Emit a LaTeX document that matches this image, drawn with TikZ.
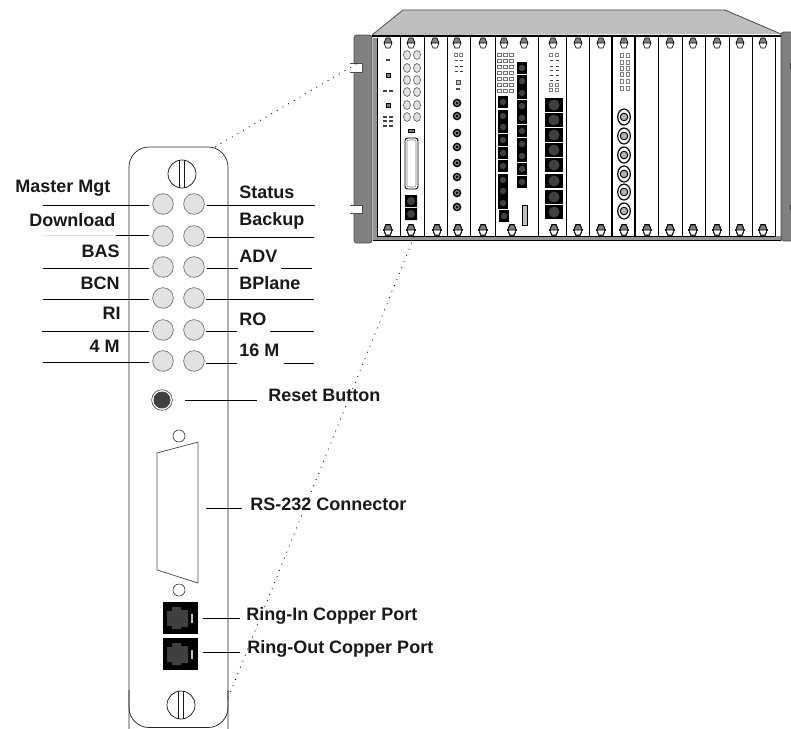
\documentclass[tikz,border=0pt]{standalone}
\usepackage{fontspec}
\setmainfont{Liberation Sans}
\usetikzlibrary{calc}
\definecolor{rackgray}{HTML}{BEBEBE}
\definecolor{eargray}{HTML}{808080}
\definecolor{ledgray}{HTML}{E2E2E2}
\definecolor{jack}{HTML}{404040}
\tikzset{
  lbl/.style={font=\fontsize{13.5pt}{15pt}\selectfont\bfseries,inner sep=0pt,text=black!90},
  lblL/.style={lbl,anchor=east},
  lblR/.style={lbl,anchor=west},
  leader/.style={draw=black,line width=0.6pt},
  divider/.style={draw=black,line width=0.7pt},
  led/.style={circle,draw=gray!90!black,fill=ledgray,line width=0.5pt,inner sep=0pt,minimum size=15.5pt},
  dotline/.style={draw=black,line width=0.6pt,dash pattern=on 0.7pt off 4.2pt},
}
\newcommand{\rackscrew}[2]{%
  \fill[white] (#1-4,#2) -- (#1-2,#2-5) -- (#1+2,#2-5) -- (#1+4,#2) -- (#1+2,#2+5) -- (#1-2,#2+5) -- cycle;
  \fill[gray] (#1-4,#2) -- (#1-2,#2-5) -- (#1+2,#2-5) -- (#1+4,#2) -- cycle;
  \draw[line width=0.45pt] (#1-4,#2) -- (#1-2,#2-5) -- (#1+2,#2-5) -- (#1+4,#2) -- (#1+2,#2+5) -- (#1-2,#2+5) -- cycle (#1-4,#2) -- (#1+4,#2);}
\newcommand{\minijack}[3]{%
  \fill[black] (#1-#3,#2-#3-1) rectangle (#1+#3,#2+#3+1);
  \fill[jack] (#1,#2) circle ({#3*0.65});}
\begin{document}
\begin{tikzpicture}[x=0.75pt,y=-0.75pt]
\useasboundingbox (0,0) rectangle (791,728);
% ---- rack ----
\fill[rackgray] (372,35) -- (403,10) -- (725,10) -- (781,34) -- cycle;
\draw[line width=0.6pt,black!70] (372,35) -- (403,10) -- (725,10) -- (781,34);
\fill[white] (372,35) rectangle (781,240);
\draw[line width=0.9pt] (372,36) -- (781,36);
\fill[gray!85] (373,38) rectangle (377,236);
\fill[gray!85] (373,236) rectangle (781,240);
\draw[line width=0.5pt] (373,240) -- (781,240);
\draw[line width=0.5pt] (377,38) -- (377,236) -- (775,236) -- (775,38);
% ears
\filldraw[fill=eargray,draw=black!70,line width=0.5pt,rounded corners=2pt] (354,35) rectangle (372,243);
\filldraw[fill=eargray,draw=black!70,line width=0.5pt,rounded corners=2pt] (781,32) rectangle (795,241);
\fill[white] (350,63) rectangle (362,72) (350,205) rectangle (362,213);
\draw[black!70,line width=0.4pt] (350,63) -- (362,63) -- (362,72) -- (350,72);
\draw[black!70,line width=0.4pt] (350,205) -- (362,205) -- (362,213) -- (350,213);
\fill[black!70] (790,63) rectangle (791,69) (790,205) rectangle (791,210);
% dividers
\foreach \x in {400,424,447,470,495,538,566,589,658,682,705,729,752}
  \draw[divider] (\x,37) -- (\x,236);
\draw[line width=1.1pt] (612,37) -- (612,236) (635,37) -- (635,236);
% screws
\foreach \x in {388,411,435,457,483,504,524,553,578,601,624,647,670,693,717,740,763}
  \rackscrew{\x}{43}
\foreach \x in {388,411,437,458,483,512,554,578,601,624,647,670,693,717,740,763}
  \rackscrew{\x}{230}
% card 1
\foreach \p in {(388,60),(385,91),(391,91),(385,117),(391,117),(385,121),(391,121),(385,126),(391,126)}
  \fill[black!75] \p ++(-2,-0.6) rectangle ++(4,1.2);
\foreach \y in {75,105}{\filldraw[fill=gray,draw=black,line width=0.6pt] (386,\y-2) rectangle (390,\y+2);}
% card 2
\foreach \y in {55,68,80,92,105,117}{
  \filldraw[fill=ledgray,draw=gray!80!black,line width=0.5pt] (407,\y) ellipse (3.5 and 4.5);
  \filldraw[fill=ledgray,draw=gray!80!black,line width=0.5pt] (417,\y) ellipse (3.5 and 4.5);}
\filldraw[fill=gray,draw=black,line width=0.5pt] (408,129.5) rectangle (414,132.5);
\draw[line width=0.7pt,rounded corners=2pt] (405,138) rectangle (418,189);
\draw[gray,line width=0.4pt,rounded corners=1.5pt] (407,140) rectangle (416,187);
\fill[black] (405,195) rectangle (417,207) (405,208) rectangle (417,220);
\fill[jack] (411,201) circle (4) (411,214) circle (4);
% card 4
\foreach \x in {456,461}{
  \draw[gray,line width=0.35pt] (\x-1.5,53.5) rectangle (\x+1.5,56.5);
  \foreach \y in {60,66,71}{\fill[black!75] (\x-1.5,\y-0.5) rectangle (\x+1.5,\y+0.5);}}
\filldraw[fill=gray!50,draw=black!70,line width=0.4pt] (456,80) rectangle (460,84);
\fill[black!70] (456,88) rectangle (460,90);
\foreach \y in {103,116,133,147,163,177,193,207}{
  \filldraw[fill=gray,draw=black,line width=1pt] (457,\y) circle (3.6);
  \fill[black] (457,\y) circle (1.4);}
% card 6
\foreach \x in {499,505,511}\foreach \y in {55,61,67,73,79,85,91}
  \draw[gray!90!black,line width=0.4pt] (\x-2,\y-1.7) rectangle (\x+2,\y+1.7);
\foreach \y/\x in {102/503,116/503,127/503,140/503,153/503,166/503,180/503,191/503,203/503,216/504}
  \minijack{\x}{\y}{5};
\foreach \y in {68,81,93,106,118,131,144,156,169,182}
  \minijack{522}{\y}{5};
\filldraw[fill=gray!50,draw=black,line width=0.7pt] (522.5,205) rectangle (527,225);
% card 7
\foreach \x in {551,557}{
  \draw[gray,line width=0.35pt] (\x-1.5,53.5) rectangle (\x+1.5,56.5);
  \draw[gray,line width=0.35pt] (\x-1.5,83.5) rectangle (\x+1.5,86.5);
  \draw[gray,line width=0.35pt] (\x-1.5,88.5) rectangle (\x+1.5,91.5);
  \foreach \y in {60,66,70,75,80}{\fill[black!75] (\x-1.5,\y-0.5) rectangle (\x+1.5,\y+0.5);}}
\foreach \y in {105,120,135,150,165,181,197,212}{
  \fill[black] (545,\y-7) rectangle (563,\y+7);
  \fill[jack] (554,\y) circle (5.5);}
% card 12
\foreach \x in {622,628}\foreach \y in {55,62,68,74,81,88}
  \draw[gray,line width=0.4pt] (\x-1.7,\y-2) rectangle (\x+1.7,\y+2);
\foreach \y in {117,136,155,174,192,211}{
  \draw[line width=0.9pt,fill=white] (624,\y) ellipse (6.3 and 8);
  \filldraw[fill=gray!60,draw=black,line width=0.7pt] (624,\y) circle (3.8);}
% ---- dotted zoom lines ----
\coordinate (zoomA) at (358,63);
\coordinate (zoomB) at (416,232);
% ---- panel ----
\coordinate (panelTR) at (215,147);
\coordinate (panelBR) at (228,698);
\draw[dotline] (panelTR) -- (zoomA);
\draw[dotline] (panelBR) -- (zoomB);
\draw[line width=0.55pt,black!85,rounded corners=15pt] (129,735) -- (129,147) -- (228,147) -- (228,735);
\draw[line width=0.55pt,black!85,rounded corners=15pt] (129,690) -- (129,727.5) -- (228,727.5) -- (228,690);
% panel screws
\foreach \y/\x in {174/182,705/181}{
  \draw[line width=0.55pt,black!90] (\x,\y) circle (14);
  \draw[line width=0.55pt,black!90] (\x-2.5,\y-14) -- (\x-2.5,\y+14) (\x+2.5,\y-14) -- (\x+2.5,\y+14);}
% LEDs
\foreach \n/\y in {a/204,b/236,c/267,d/298,e/330,f/361}{
  \node[led] (L\n) at (163,\y) {};
  \node[led] (R\n) at (194,\y) {};}
% reset
\node[circle,draw=black!80,fill=white,line width=0.4pt,minimum size=15.5pt,inner sep=0pt] (reset) at (162,400) {};
\fill[black!75] (reset.center) circle (8.5);
% D connector
\node[circle,draw=black!80,line width=0.45pt,minimum size=9pt,inner sep=0pt] (hole1) at (179,436) {};
\node[circle,draw=black!80,line width=0.45pt,minimum size=9pt,inner sep=0pt] (hole2) at (179,590) {};
\draw[line width=0.55pt,black!70] (157,453) -- (198,442) -- (198,583) -- (157,570) -- cycle;
% big ports
\foreach \y/\n in {602/pin,638/pout}{
  \fill[black] (163,\y) rectangle (198,\y+32);
  \fill[jack] (167,\y+9) -- (172,\y+9) -- (172,\y+5) -- (181,\y+5) -- (181,\y+8) -- (188,\y+8) -- (188,\y+25) -- (181,\y+25) -- (181,\y+27) -- (172,\y+27) -- (172,\y+24) -- (167,\y+24) -- cycle;
  \fill[gray!50] (191,\y+12) rectangle (193,\y+21);
  \coordinate (\n) at (198,\y+16);}
% leader ends
\draw[black!12,line width=0.6pt] (43,235) -- (116,235);
\foreach \n/\xa/\y/\nd in {a/43/205/a,b/116/235/b,c/43/268/c,d/43/299/d,e/42/331/e,f/43/362/f}
  {\coordinate (p\n) at (\xa,\y); \draw[leader] (p\n) -- (149,\y);}
\foreach \xa/\xb/\y in {207/315/205,207/314/237,207/238/268,281/312/268,206/314/299,206/237/331,270/314/331,206/237/363,284/314/363,185/257/400,206/242/508,203/240/618,203/240/652}
  \draw[leader] (\xa,\y) -- (\xb,\y);
% labels
\node[lbl,anchor=west] (t1) at (15,188) {Master Mgt};
\node[lbl,anchor=west] (t2) at (29,220) {Download};
\node[lblL] (t3) at (120,251) {BAS};
\node[lblL] (t4) at (120,283) {BCN};
\node[lblL] (t5) at (121,313) {RI};
\node[lblL] (t6) at (120,346) {4 M};
\node[lblR] (t7) at (239,192) {Status};
\node[lblR] (t8) at (239,221) {Backup};
\node[lblR] (t9) at (239,256) {ADV};
\node[lblR] (t10) at (239,283) {BPlane};
\node[lblR] (t11) at (239,319) {RO};
\node[lblR] (t12) at (239,350) {16 M};
\node[lblR] (t13) at (268,395) {Reset Button};
\node[lblR] (t14) at (250,504) {RS-232 Connector};
\node[lblR] (t15) at (246,616) {Ring-In Copper Port};
\node[lblR] (t16) at (247,649) {Ring-Out Copper Port};
\end{tikzpicture}
\end{document}
